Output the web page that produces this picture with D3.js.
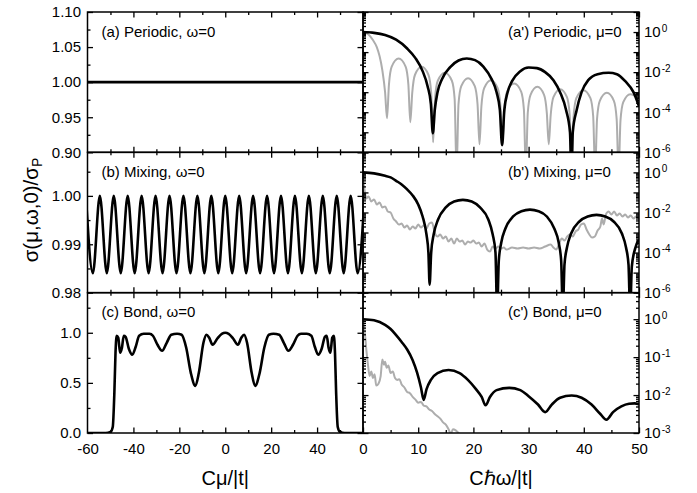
<!DOCTYPE html>
<html>
<head>
<meta charset="utf-8">
<script src="https://cdn.jsdelivr.net/npm/d3@7"></script>
<style>
body { margin: 0; background: #fff; }
</style>
</head>
<body>
<svg id="fig" width="697" height="493"></svg>
<script>
// ---- data ----
var muTickLabels = [-60, -40, -20, 0, 20, 40];
var muMajor = [-40, -20, 0, 20, 40];
var muMinor = [-50, -30, -10, 10, 30, 50];
var omegaMajor = [0, 10, 20, 30, 40, 50];
var omegaMinor = [5, 15, 25, 35, 45];

// (a) periodic, omega = 0
var periodicSigmaTicks = [0.90, 0.95, 1.00, 1.05, 1.10];
var periodicSigmaMinor = [0.925, 0.975, 1.025, 1.075];
var periodicMu = [[-60, 1.0], [60, 1.0]];

// (b) mixing, omega = 0  (peaks and troughs)
var mixingSigmaTicks = [0.98, 0.99, 1.00];
var mixingSigmaMinor = [0.985, 0.995, 1.005];
var mixingMu = [
  [-60.7, 1.0], [-57.66, 0.984], [-54.63, 1.0], [-51.59, 0.984], [-48.56, 1.0],
  [-45.52, 0.984], [-42.49, 1.0], [-39.45, 0.984], [-36.42, 1.0], [-33.38, 0.984],
  [-30.35, 1.0], [-27.31, 0.984], [-24.28, 1.0], [-21.24, 0.984], [-18.21, 1.0],
  [-15.17, 0.984], [-12.14, 1.0], [-9.1, 0.984], [-6.07, 1.0], [-3.03, 0.984],
  [0, 1.0], [3.03, 0.984], [6.07, 1.0], [9.1, 0.984], [12.14, 1.0],
  [15.17, 0.984], [18.21, 1.0], [21.24, 0.984], [24.28, 1.0], [27.31, 0.984],
  [30.35, 1.0], [33.38, 0.984], [36.42, 1.0], [39.45, 0.984], [42.49, 1.0],
  [45.52, 0.984], [48.56, 1.0], [51.59, 0.984], [54.63, 1.0], [57.66, 0.984],
  [60.7, 1.0]
];

// (c) bond, omega = 0
var bondSigmaTicks = [0.0, 0.5, 1.0];
var bondSigmaMinor = [0.25, 0.75, 1.25];
var bondMu = [
  [-60, 0], [-52, 0], [-50, 0.01], [-49, 0.06], [-48.3, 0.4], [-47.8, 0.8],
  [-47.3, 0.97], [-46.6, 0.95], [-45.8, 0.8], [-45.0, 0.85], [-44.2, 0.97],
  [-43.4, 0.96], [-42, 0.84], [-40.5, 0.78], [-39, 0.86], [-37.5, 0.97],
  [-35.5, 0.99], [-33, 0.99], [-31.5, 0.97], [-29.5, 0.88], [-27.5, 0.82],
  [-25.5, 0.9], [-23.5, 0.98], [-21, 0.99], [-19, 0.98], [-17, 0.85],
  [-15, 0.6], [-13, 0.47], [-11.5, 0.6], [-9.5, 0.9], [-8.2, 0.98],
  [-7, 0.95], [-5.5, 0.88], [-3.5, 0.94], [-1.5, 0.99], [0, 1.0],
  [1.5, 0.99], [3.5, 0.94], [5.5, 0.88], [7, 0.95], [8.2, 0.98],
  [9.5, 0.9], [11.5, 0.6], [13, 0.47], [15, 0.6], [17, 0.85],
  [19, 0.98], [21, 0.99], [23.5, 0.98], [25.5, 0.9], [27.5, 0.82],
  [29.5, 0.88], [31.5, 0.97], [33, 0.99], [35.5, 0.99], [37.5, 0.97],
  [39, 0.86], [40.5, 0.78], [42, 0.84], [43.4, 0.96], [44.2, 0.97],
  [45.0, 0.85], [45.8, 0.8], [46.6, 0.95], [47.3, 0.97], [47.8, 0.8],
  [48.3, 0.4], [49, 0.06], [50, 0.01], [52, 0], [60, 0]
];

// right column: [C hbar omega/|t|, log10 sigma]
var periodicOmegaBlack = [
  [0, 0], [2, -0.04], [4, -0.15], [6, -0.38], [8, -0.82], [9.5, -1.3], [10.8, -1.95],
  [11.7, -2.7], [12.3, -3.6], [12.65, -5.05], [13.0, -3.9], [13.5, -3.0], [14.3, -2.35],
  [15.8, -1.75], [17.3, -1.42], [18.8, -1.32], [20.3, -1.4], [21.8, -1.72], [23.3, -2.35],
  [24.2, -3.0], [24.8, -3.9], [25.2, -5.65], [25.6, -3.9], [26.2, -3.0], [27.0, -2.45],
  [28.5, -1.95], [30.0, -1.77], [31.5, -1.8], [33.0, -2.0], [34.5, -2.4], [35.7, -3.0],
  [36.8, -3.9], [37.5, -5.0], [37.75, -7], [38.0, -5.0], [38.7, -3.9], [39.6, -3.0],
  [40.8, -2.4], [42.5, -2.1], [44.5, -2.03], [46.0, -2.1], [47.5, -2.45], [49.0, -3.0],
  [50.0, -3.7]
];
var periodicOmegaGray = [
  [0, 0], [1, -0.12], [1.8, -0.4], [2.5, -0.75], [3.0, -1.2], [3.5, -1.9], [4.0, -3.0], [4.35, -4.3],
  [4.7, -2.62], [5.2, -1.72], [6.46, -1.32], [7.72, -1.72], [8.22, -2.62], [8.57, -4.5],
  [8.92, -3.03], [9.42, -2.13], [10.63, -1.73], [11.85, -2.13], [12.35, -3.03], [12.7, -5.5],
  [13.05, -3.33], [13.55, -2.43], [14.83, -2.03], [16.1, -2.43], [16.6, -3.33], [16.95, -7],
  [17.3, -3.6], [17.8, -2.7], [19.03, -2.3], [20.25, -2.7], [20.75, -3.6], [21.1, -5.6],
  [21.45, -3.7], [21.95, -2.8], [23.18, -2.4], [24.4, -2.8], [24.9, -3.7], [25.25, -5.6],
  [25.6, -3.87], [26.1, -2.97], [27.38, -2.57], [28.65, -2.97], [29.15, -3.87], [29.5, -7],
  [29.85, -4.03], [30.35, -3.13], [31.58, -2.73], [32.8, -3.13], [33.3, -4.03], [33.65, -5.6],
  [34.0, -4.15], [34.5, -3.25], [35.73, -2.85], [36.95, -3.25], [37.45, -4.15], [37.8, -7],
  [38.15, -4.2], [38.65, -3.3], [39.93, -2.9], [41.2, -3.3], [41.7, -4.2], [42.05, -7],
  [42.4, -4.33], [42.9, -3.43], [44.18, -3.03], [45.45, -3.43], [45.95, -4.33], [46.3, -7],
  [46.65, -4.4], [47.15, -3.5], [48.4, -3.1], [50, -3.3]
];
var mixingOmegaBlack = [
  [0, 0], [2, -0.05], [4, -0.17], [5, -0.25], [6, -0.42], [7, -0.6], [8, -0.85], [9, -1.15],
  [10, -1.6], [10.8, -2.2], [11.5, -3.1], [11.85, -4.0], [12.07, -5.6],
  [12.35, -4.0], [12.8, -3.1], [13.6, -2.35], [15.0, -1.75], [16.5, -1.45], [18.1, -1.37],
  [19.7, -1.45], [21.2, -1.75], [22.7, -2.35], [23.5, -3.1], [24.0, -4.0], [24.3, -7],
  [24.6, -4.4], [25.05, -3.5], [25.8, -2.8], [27.2, -2.2], [28.7, -1.94], [30.25, -1.86],
  [31.8, -1.94], [33.3, -2.2], [34.65, -2.8], [35.45, -3.5], [35.9, -4.4], [36.2, -7],
  [36.5, -4.6], [36.95, -3.75], [37.7, -3.05], [39.2, -2.45], [40.7, -2.2], [42.3, -2.12],
  [43.9, -2.2], [45.4, -2.45], [46.9, -3.05], [47.65, -3.75], [48.1, -4.6], [48.4, -7],
  [48.7, -4.7], [49.3, -3.8], [50, -3.35]
];
var mixingOmegaGray = [
  [0, -0.3], [0.3, -0.9], [0.6, -1.3], [1.0, -1.2], [1.5, -1.45], [2.0, -1.35], [2.5, -1.6],
  [3.0, -1.5], [3.5, -1.75], [4.0, -1.7], [4.5, -1.95], [5.0, -2.0], [5.5, -2.3], [6.0, -2.45],
  [6.5, -2.6], [7.0, -2.55], [7.5, -2.75], [8.0, -2.65], [8.5, -2.85], [9.0, -2.7], [9.5, -2.8],
  [10.0, -2.6], [10.5, -2.75], [11.0, -2.65], [11.5, -2.8], [12.0, -2.55], [12.5, -2.5],
  [13.0, -3.0], [13.5, -3.2], [14.0, -3.1], [14.5, -3.3], [15.0, -3.2], [15.5, -3.45],
  [16.0, -3.3], [16.5, -3.55], [17.0, -3.3], [17.5, -3.45], [18.0, -3.4], [18.5, -3.6],
  [19.0, -3.45], [19.5, -3.5], [20.0, -3.4], [20.5, -3.55], [21.0, -3.5], [21.5, -3.7],
  [22.0, -3.55], [22.5, -3.85], [23.0, -3.95], [23.5, -3.7], [24.0, -3.8], [24.5, -3.7],
  [25.0, -3.8], [25.5, -3.75], [26.0, -3.85], [27, -3.75], [28, -3.8], [29, -3.75],
  [30, -3.8], [31, -3.75], [32, -3.8], [33, -3.7], [34, -3.6], [34.5, -3.75], [35, -3.85],
  [35.5, -3.6], [36, -3.3], [36.5, -3.4], [37, -3.2], [37.5, -3.1], [38, -3.2], [38.5, -2.95],
  [39, -2.85], [39.5, -2.6], [40, -2.55], [40.5, -2.85], [41, -3.1], [41.5, -3.25], [42, -3.2],
  [42.5, -2.9], [43, -2.7], [43.3, -2.3], [43.6, -2.6], [44, -2.1], [44.5, -1.95], [45, -2.1],
  [45.5, -1.95], [46, -2.15], [46.5, -2.05], [47, -2.2], [47.5, -2.1], [48, -2.25],
  [48.5, -2.15], [49, -2.3], [49.5, -2.2], [50, -2.3]
];
var bondOmegaBlack = [
  [0, 0], [2, -0.03], [4, -0.15], [5, -0.26], [6, -0.42], [7, -0.6], [8, -0.8], [9, -1.08],
  [9.8, -1.41], [10.5, -1.8], [11.0, -2.13], [11.5, -1.85], [12.3, -1.6], [13.5, -1.42],
  [15.5, -1.34], [17.5, -1.42], [19, -1.6], [20.5, -1.85], [21.5, -2.05], [22.2, -2.27],
  [23.0, -2.05], [24.2, -1.87], [26.5, -1.81], [28.5, -1.87], [30, -2.03], [31.7, -2.25],
  [33.0, -2.45], [34.2, -2.25], [35.7, -2.07], [37.8, -2.01], [39.6, -2.07], [41.4, -2.25],
  [43, -2.5], [44.1, -2.65], [45.3, -2.45], [46.8, -2.3], [48.2, -2.23], [49.2, -2.22],
  [50, -2.24]
];
var bondOmegaGray = [
  [0, 0], [0.3, -0.3], [0.6, -0.8], [0.9, -1.2], [1.2, -1.5], [1.5, -1.38], [1.8, -1.55],
  [2.1, -1.45], [2.4, -1.75], [2.8, -1.7], [3.2, -1.5], [3.5, -1.06], [3.8, -1.2], [4.0, -1.12],
  [4.3, -1.28], [4.6, -1.22], [5.0, -1.42], [5.4, -1.38], [5.8, -1.55], [6.2, -1.6],
  [6.6, -1.58], [7.0, -1.72], [7.5, -1.8], [8.0, -1.92], [8.5, -1.95], [9.0, -2.05],
  [9.5, -2.12], [10.0, -2.2], [10.5, -2.18], [11.0, -2.28], [11.5, -2.3], [12.0, -2.38],
  [12.5, -2.42], [13.0, -2.5], [13.5, -2.56], [14.0, -2.62], [14.5, -2.72], [15.0, -2.78],
  [15.5, -2.9], [15.9, -3.02], [16.3, -2.9], [16.8, -2.93], [17.3, -3.0], [17.8, -3.1]
];

// ---- layout ----
var svg = d3.select('#fig');
var font = '"Liberation Sans", Arial, Helvetica, sans-serif';
var xLeft = 87.5, xMid = 363, xRight = 639, yTop = 12, yBottom = 433;
var rowH = (yBottom - yTop) / 3;
var majorLen = 5.5, minorLen = 3;
var grey = '#adadad';

var muScale = d3.scaleLinear().domain([-60, 60]).range([xLeft, xMid]);
var omegaScale = d3.scaleLinear().domain([0, 50]).range([xMid, xRight]);

var leftPanels = [
  {label: '(a) Periodic, \u03c9=0', domain: [0.90, 1.10], major: periodicSigmaTicks, minor: periodicSigmaMinor, fmt: d3.format('.2f'), data: periodicMu},
  {label: '(b) Mixing, \u03c9=0', domain: [0.98, 1.009], major: mixingSigmaTicks, minor: mixingSigmaMinor, fmt: d3.format('.2f'), data: mixingMu},
  {label: '(c) Bond, \u03c9=0', domain: [0, 1.4], major: bondSigmaTicks, minor: bondSigmaMinor, fmt: d3.format('.1f'), data: bondMu}
];
var rightPanels = [
  {label: "(a') Periodic, \u03bc=0", domain: [1e-6, 10], labels: [1, 1e-2, 1e-4, 1e-6], black: periodicOmegaBlack, gray: periodicOmegaGray},
  {label: "(b') Mixing, \u03bc=0", domain: [1e-6, 10], labels: [1, 1e-2, 1e-4, 1e-6], black: mixingOmegaBlack, gray: mixingOmegaGray},
  {label: "(c') Bond, \u03bc=0", domain: [1e-3, 5], labels: [1, 1e-1, 1e-2, 1e-3], black: bondOmegaBlack, gray: bondOmegaGray}
];

function tickGroup(axis, tx, ty) {
  var g = svg.append('g').attr('transform', 'translate(' + tx + ',' + ty + ')').call(axis);
  g.select('.domain').remove();
  g.selectAll('line').attr('stroke', '#000').attr('stroke-width', 1.3);
  g.selectAll('text').attr('font-family', font).attr('font-size', 15).attr('fill', '#000');
  return g;
}

function clipFor(id, x0, y0, w, h) {
  svg.append('clipPath').attr('id', id).append('rect')
    .attr('x', x0).attr('y', y0).attr('width', w).attr('height', h);
  return 'url(#' + id + ')';
}

leftPanels.forEach(function (p, i) {
  var y0 = yTop + i * rowH, y1 = y0 + rowH;
  var y = d3.scaleLinear().domain(p.domain).range([y1, y0]);
  var line = d3.line().x(function (d) { return muScale(d[0]); }).y(function (d) { return y(d[1]); })
    .curve(d3.curveMonotoneX);
  svg.append('path').datum(p.data).attr('d', line)
    .attr('clip-path', clipFor('clipL' + i, xLeft, y0, xMid - xLeft, rowH))
    .attr('fill', 'none').attr('stroke', '#000').attr('stroke-width', 2.6);

  svg.append('rect').attr('x', xLeft).attr('y', y0).attr('width', xMid - xLeft).attr('height', rowH)
    .attr('fill', 'none').attr('stroke', '#000').attr('stroke-width', 1.5);

  tickGroup(d3.axisLeft(y).tickValues(p.major).tickSize(-majorLen).tickPadding(6.5).tickFormat(p.fmt), xLeft, 0);
  tickGroup(d3.axisLeft(y).tickValues(p.minor).tickSize(-minorLen).tickFormat(''), xLeft, 0);
  tickGroup(d3.axisRight(y).tickValues(p.major).tickSize(-majorLen).tickFormat(''), xMid, 0);
  tickGroup(d3.axisRight(y).tickValues(p.minor).tickSize(-minorLen).tickFormat(''), xMid, 0);
  tickGroup(d3.axisTop(muScale).tickValues(muMajor).tickSize(-majorLen).tickFormat(''), 0, y0);
  tickGroup(d3.axisTop(muScale).tickValues(muMinor).tickSize(-minorLen).tickFormat(''), 0, y0);
  tickGroup(d3.axisBottom(muScale).tickValues(muMajor).tickSize(-majorLen).tickFormat(''), 0, y1);
  tickGroup(d3.axisBottom(muScale).tickValues(muMinor).tickSize(-minorLen).tickFormat(''), 0, y1);
  if (i === 2) {
    tickGroup(d3.axisBottom(muScale).tickValues(muTickLabels).tickSize(0).tickPadding(10)
      .tickFormat(function (d) { return String(d); }), 0, y1);
  }

  svg.append('text').attr('x', 101.5).attr('y', y0 + 24.5)
    .attr('font-family', font).attr('font-size', 15).text(p.label);
});

rightPanels.forEach(function (p, i) {
  var y0 = yTop + i * rowH, y1 = y0 + rowH;
  var y = d3.scaleLog().domain(p.domain).range([y1, y0]);
  var line = d3.line().x(function (d) { return omegaScale(d[0]); })
    .y(function (d) { return y(Math.pow(10, d[1])); })
    .curve(d3.curveMonotoneX);
  var clip = clipFor('clipR' + i, xMid, y0, xRight - xMid, rowH);
  svg.append('path').datum(p.gray).attr('d', line).attr('clip-path', clip)
    .attr('fill', 'none').attr('stroke', grey).attr('stroke-width', 2);
  svg.append('path').datum(p.black).attr('d', line).attr('clip-path', clip)
    .attr('fill', 'none').attr('stroke', '#000').attr('stroke-width', 2.6);

  svg.append('rect').attr('x', xMid).attr('y', y0).attr('width', xRight - xMid).attr('height', rowH)
    .attr('fill', 'none').attr('stroke', '#000').attr('stroke-width', 1.5);

  var all = y.ticks();
  var decades = all.filter(function (d) { var l = Math.log10(d); return Math.abs(l - Math.round(l)) < 1e-6; });
  var minors = all.filter(function (d) { return decades.indexOf(d) < 0; });

  tickGroup(d3.axisRight(y).tickValues(decades).tickSize(-majorLen).tickFormat(''), xRight, 0);
  tickGroup(d3.axisRight(y).tickValues(minors).tickSize(-minorLen).tickFormat(''), xRight, 0);
  tickGroup(d3.axisLeft(y).tickValues(decades).tickSize(-majorLen).tickFormat(''), xMid, 0);
  tickGroup(d3.axisLeft(y).tickValues(minors).tickSize(-minorLen).tickFormat(''), xMid, 0);
  tickGroup(d3.axisTop(omegaScale).tickValues(omegaMajor).tickSize(-majorLen).tickFormat(''), 0, y0);
  tickGroup(d3.axisTop(omegaScale).tickValues(omegaMinor).tickSize(-minorLen).tickFormat(''), 0, y0);
  tickGroup(d3.axisBottom(omegaScale).tickValues(omegaMajor).tickSize(-majorLen).tickFormat(''), 0, y1);
  tickGroup(d3.axisBottom(omegaScale).tickValues(omegaMinor).tickSize(-minorLen).tickFormat(''), 0, y1);
  if (i === 2) {
    tickGroup(d3.axisBottom(omegaScale).tickValues(omegaMajor).tickSize(0).tickPadding(10)
      .tickFormat(function (d) { return String(d); }), 0, y1);
  }

  var lab = tickGroup(d3.axisRight(y).tickValues(p.labels).tickSize(0).tickPadding(5).tickFormat(''), xRight, 0);
  lab.selectAll('text').each(function (d) {
    var t = d3.select(this);
    t.append('tspan').text('10');
    t.append('tspan').attr('dx', 1).attr('dy', '-0.55em').attr('font-size', 10).text(String(Math.round(Math.log10(d))));
  });

  svg.append('text').attr('x', 508).attr('y', y0 + 24.5)
    .attr('font-family', font).attr('font-size', 15).text(p.label);
});

// axis titles
svg.append('text').attr('x', muScale(0)).attr('y', 485).attr('text-anchor', 'middle')
  .attr('font-family', font).attr('font-size', 20).text('C\u03bc/|t|');
svg.append('text').attr('x', omegaScale(25)).attr('y', 485).attr('text-anchor', 'middle')
  .attr('font-family', font).attr('font-size', 20).text('C\u210f\u03c9/|t|');
var yt = svg.append('text').attr('transform', 'translate(38,210) rotate(-90)').attr('text-anchor', 'middle')
  .attr('font-family', font).attr('font-size', 20.5);
yt.append('tspan').text('\u03c3(\u03bc,\u03c9,0)/\u03c3');
yt.append('tspan').attr('dy', '0.3em').attr('font-size', 14).text('P');
</script>
</body>
</html>
